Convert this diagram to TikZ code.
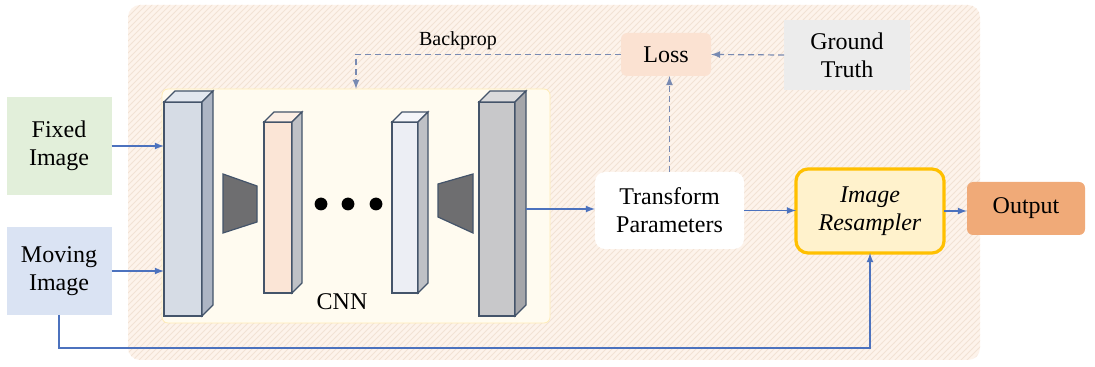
\documentclass[tikz,border=0pt]{standalone}
\usepackage{fontspec}
\setmainfont{Liberation Serif}
\usepackage{tikz}
\usetikzlibrary{arrows,patterns}

\definecolor{arrowblue}{RGB}{76,114,190}
\definecolor{dashblue}{RGB}{120,138,178}
\definecolor{outerbg}{RGB}{253,243,235}
\definecolor{hatch}{RGB}{242,226,213}
\definecolor{fixedgreen}{RGB}{226,239,218}
\definecolor{movblue}{RGB}{218,227,243}
\definecolor{cnnbg}{RGB}{255,251,240}
\definecolor{cnnline}{RGB}{255,236,180}
\definecolor{lossfill}{RGB}{251,226,210}
\definecolor{gtfill}{RGB}{236,236,236}
\definecolor{resfill}{RGB}{255,242,204}
\definecolor{resline}{RGB}{255,192,0}
\definecolor{outfill}{RGB}{240,170,120}
\definecolor{slate}{RGB}{68,84,106}
\definecolor{faceA}{RGB}{214,220,229}
\definecolor{topA}{RGB}{226,231,239}
\definecolor{sideA}{RGB}{173,181,196}
\definecolor{faceB}{RGB}{251,229,214}
\definecolor{topB}{RGB}{252,238,228}
\definecolor{faceC}{RGB}{236,238,244}
\definecolor{topC}{RGB}{244,245,249}
\definecolor{sideC}{RGB}{191,193,198}
\definecolor{faceD}{RGB}{200,200,202}
\definecolor{topD}{RGB}{218,218,220}
\definecolor{sideD}{RGB}{165,166,170}
\definecolor{trapgray}{RGB}{110,110,112}

\begin{document}
\begin{tikzpicture}
	[x=0.5pt,y=-0.5pt,
	 box/.style={inner sep=0pt,outer sep=0pt,align=center,font=\fontsize{12}{14}\selectfont},
	 blk/.style={draw=slate,line width=0.6pt,inner sep=0pt,outer sep=0pt},
	 arr/.style={draw=arrowblue,line width=0.6pt,-latex},
	 dasharr/.style={draw=dashblue,line width=0.6pt,densely dashed,-latex}]
\path[use as bounding box] (0,0) rectangle (1095,367);
% background panel
\fill[outerbg,rounded corners=6pt] (128,5) rectangle (980,360);
\fill[pattern=north east lines,pattern color=hatch,rounded corners=6pt] (128,5) rectangle (980,360);

\node[box,fill=cnnbg,draw=cnnline,rounded corners=3pt,minimum width=194pt,minimum height=117pt] (cnn) at (356,206) {};

% layers of the network
\foreach \n/\cx/\cy/\w/\h/\d/\face/\tp/\side in
	{b1/183/209/38/214/11/faceA/topA/sideA,
	 b2/278/207.5/28/171/10/faceB/topB/sideC,
	 b3/405/207.5/26/171/10/faceC/topC/sideC,
	 b4/497/209/36/214/11/faceD/topD/sideD}
{
\node[blk,fill=\face,minimum width=\w*0.5pt,minimum height=\h*0.5pt] (\n) at (\cx,\cy) {};
\draw[blk,fill=\tp] (\n.north west) -- ++(\d,-\d) -- ++(\w,0) -- (\n.north east) -- cycle;
\draw[blk,fill=\side] (\n.north east) -- ++(\d,-\d) -- ++(0,\h) -- (\n.south east) -- cycle;
}
\draw[blk,fill=trapgray] (223,174) -- (257,186) -- (257,222) -- (223,233) -- cycle;
\draw[blk,fill=trapgray] (438,184) -- (473,174) -- (473,233) -- (438,217) -- cycle;
\foreach \x in {321,348,376}
\fill (\x,204) circle (3.2pt);
\node[box] (cnnlab) at (342,302) {CNN};

% inputs and outputs
\node[box,fill=fixedgreen,minimum width=52.5pt,minimum height=49pt] (fixed) at (59,146) {Fixed\\Image};
\node[box,fill=movblue,minimum width=52.5pt,minimum height=44pt] (moving) at (59,271) {Moving\\Image};
\node[box,fill=lossfill,rounded corners=3pt,minimum width=45pt,minimum height=21.5pt] (loss) at (666,54.5) {Loss};
\node[box,fill=gtfill,minimum width=63pt,minimum height=35pt] (gt) at (847,55) {Ground\\Truth};
\node[box,fill=white,rounded corners=5pt,minimum width=74.5pt,minimum height=38.5pt] (tp) at (669.5,210.5) {Transform\\Parameters};
\node[box,fill=resfill,draw=resline,line width=1.6pt,rounded corners=6pt,minimum width=74pt,minimum height=42pt] (res) at (870,211) {\textit{Image}\\\textit{Resampler}};
\node[box,fill=outfill,rounded corners=3pt,minimum width=59pt,minimum height=26.5pt] (out) at (1026,208.5) {Output};
\node[box,font=\fontsize{10}{12}\selectfont] (bp) at (458,41) {Backprop};

% connectors
\coordinate (b4side) at ([xshift=5.5pt]b4.east);
\draw[arr] (fixed.east) -- (fixed.east -| b1.west);
\draw[arr] (moving.east) -- (moving.east -| b1.west);
\draw[arr] (b4side) -- (b4side -| tp.west);
\draw[arr] (tp.east) -- (tp.east -| res.west);
\draw[arr] (res.east) -- (res.east -| out.west);
\draw[arr] (moving.south) -- (moving.south |- 0,348) -| (res.south);
\draw[dasharr] (tp.north) -- (tp.north |- loss.south);
\draw[dasharr] (gt.west) -- (loss.east);
\draw[dasharr] (loss.west) -| (cnn.north);
\end{tikzpicture}
\end{document}
